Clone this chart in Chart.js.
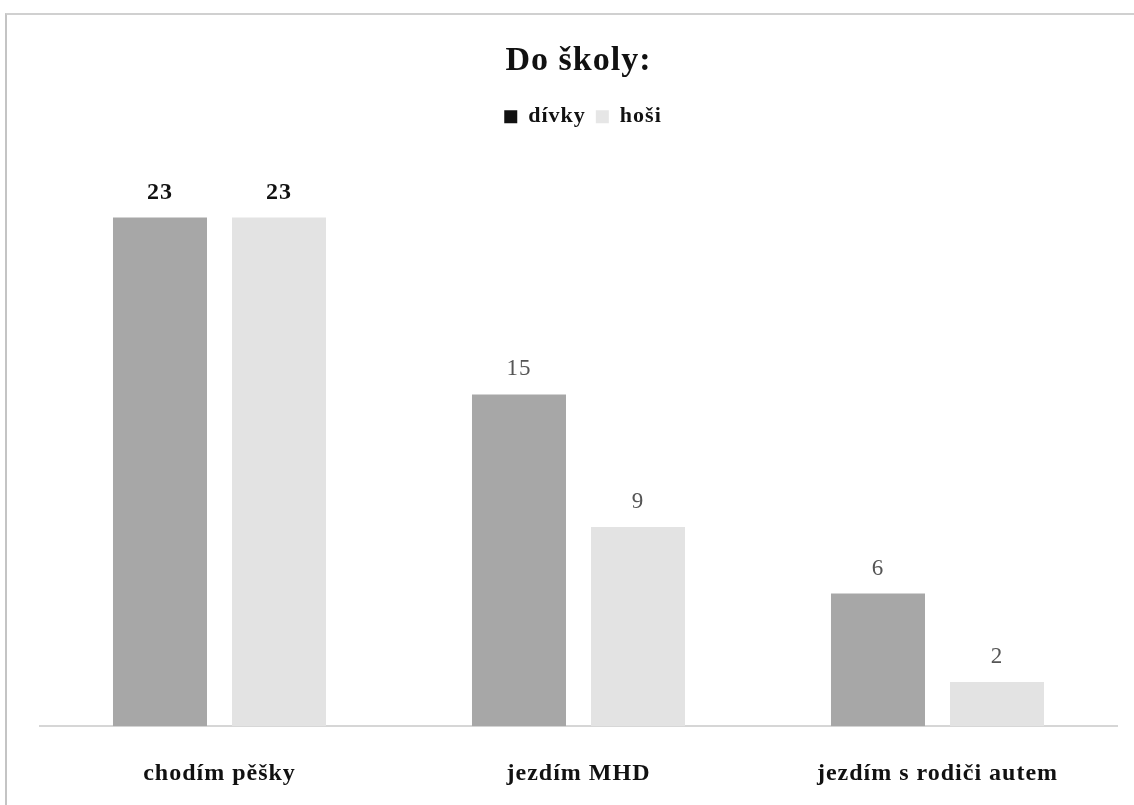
<!DOCTYPE html>
<html>
<head>
<meta charset="utf-8">
<script src="https://cdn.jsdelivr.net/npm/chart.js@4.4.0/dist/chart.umd.min.js"></script>
<style>
  html, body { margin: 0; padding: 0; background: #fff; overflow: hidden; }
  .frame {
    position: absolute; left: 5px; top: 13px; width: 1200px; height: 900px;
    border-left: 2px solid #c4c4c4; border-top: 2px solid #d0d0d0;
  }
  .chart-box { position: absolute; left: 0; top: 0; width: 1134px; height: 805px; }
</style>
</head>
<body>
<div class="frame"></div>
<div class="chart-box"><canvas id="chart"></canvas></div>
<script>
const categories = ["chodím pěšky", "jezdím MHD", "jezdím s rodiči autem"];
const divky = [23, 15, 6];
const hosi = [23, 9, 2];
const seriesNames = ["dívky", "hoši"];

const FONT = "'Liberation Serif', 'DejaVu Serif', serif";

// value labels above the bars
const valueLabels = {
  id: "valueLabels",
  afterDatasetsDraw(chart) {
    const ctx = chart.ctx;
    chart.data.datasets.forEach((ds, i) => {
      chart.getDatasetMeta(i).data.forEach((bar, j) => {
        ctx.save();
        ctx.textAlign = "center";
        ctx.textBaseline = "middle";
        if (j === 0) {
          ctx.font = "bold 24px " + FONT;
          ctx.fillStyle = "#111";
        } else {
          ctx.font = "23px " + FONT;
          ctx.fillStyle = "#555";
        }
        ctx.fillText(ds.data[j], bar.x, bar.y - 25);
        ctx.restore();
      });
    });
  },
};

const spacing = {
  id: "spacing",
  beforeDraw(chart) {
    chart.ctx.letterSpacing = "1px";
  },
};

new Chart(document.getElementById("chart"), {
  type: "bar",
  data: {
    labels: categories,
    datasets: [
      { label: seriesNames[0], data: divky, backgroundColor: "#a7a7a7", legendColor: "#111" },
      { label: seriesNames[1], data: hosi, backgroundColor: "#e3e3e3", legendColor: "#e6e6e6" },
    ],
  },
  options: {
    responsive: true,
    maintainAspectRatio: false,
    animation: false,
    layout: { padding: { left: 40, right: 17, top: 41, bottom: -16 } },
    categoryPercentage: 0.663,
    barPercentage: 0.79,
    plugins: {
      title: {
        display: true,
        text: "Do školy:",
        color: "#111",
        font: { family: FONT, size: 34, weight: "bold" },
        padding: { top: 0, bottom: 14 },
      },
      legend: {
        labels: {
          color: "#111",
          font: { family: FONT, size: 22, weight: "bold" },
          boxWidth: 13,
          boxHeight: 13,
          padding: 10,
          generateLabels(chart) {
            return chart.data.datasets.map((ds, i) => ({
              text: ds.label,
              fillStyle: ds.legendColor,
              strokeStyle: ds.legendColor,
              lineWidth: 0,
              fontColor: "#111",
              datasetIndex: i,
            }));
          },
        },
      },
      tooltip: { enabled: false },
    },
    scales: {
      x: {
        grid: { display: false, drawTicks: false },
        border: { display: true, color: "#d6d6d6", width: 2 },
        ticks: {
          color: "#111",
          padding: 33,
          font: { family: FONT, size: 24, weight: "bold" },
        },
      },
      y: { display: false, min: 0, max: 26.6 },
    },
  },
  plugins: [spacing, valueLabels],
});
</script>
</body>
</html>
